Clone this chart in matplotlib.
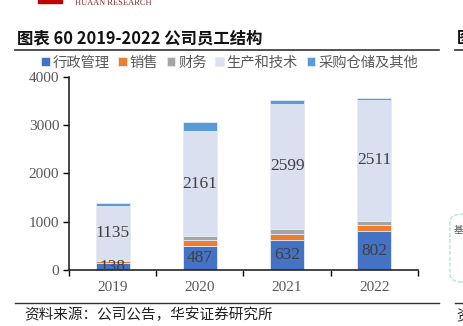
'''
Employee structure 2019-2022, stacked bars.
'''

import matplotlib.pyplot as plt
import numpy as np
from matplotlib.patches import FancyBboxPatch

plt.rcParams['font.family'] = ['Noto Sans CJK SC', 'DejaVu Sans']

years = ['2019', '2020', '2021', '2022']
categories = ['行政管理', '销售', '财务', '生产和技术', '采购仓储及其他']
admin = [138, 487, 632, 802]
sales = [45, 135, 120, 135]
finance = [15, 90, 95, 85]
production = [1135, 2161, 2599, 2511]
others = [65, 195, 70, 30]
colors = ['#4472C4', '#ED7D31', '#A5A5A5', '#DAE0F0', '#5B9BD5']

series = [admin, sales, finance, production, others]
labelled = {0, 3}

fig = plt.figure(figsize=(4.64, 3.26), dpi=100)
ax = fig.add_axes([0.1487, 0.1718, 0.752, 0.592])

x = np.arange(len(years))
bottom = np.zeros(len(years))
for i, (vals, name, c) in enumerate(zip(series, categories, colors)):
    vals = np.array(vals, dtype=float)
    ax.bar(x, vals, 0.39, bottom=bottom, color=c, label=name,
           edgecolor='#E4EAF5', linewidth=0.6)
    if i in labelled:
        for xi, b, v in zip(x, bottom, vals):
            ax.text(xi, b + v / 2, f'{int(v)}', ha='center', va='center',
                    fontsize=12.5, color='#404040', family='Liberation Serif')
    bottom += vals

ax.set_xlim(-0.5, 3.5)
ax.set_ylim(0, 4000)
ax.set_yticks([0, 1000, 2000, 3000, 4000])
ax.set_xticks(x)
ax.set_xticklabels(years)
ax.set_xticks(np.arange(-0.5, 4, 1), minor=True)
ax.tick_params(axis='x', which='major', length=0, pad=8)
ax.tick_params(axis='x', which='minor', length=4, width=1, direction='out')
ax.tick_params(axis='y', length=4, width=1, direction='out', pad=3)
for lab in ax.get_xticklabels() + ax.get_yticklabels():
    lab.set_family('Liberation Serif')
    lab.set_fontsize(11)
    lab.set_color('#595959')
for s in ['top', 'right']:
    ax.spines[s].set_visible(False)
for s in ['left', 'bottom']:
    ax.spines[s].set_color('#262626')
    ax.spines[s].set_linewidth(1.2)

ax.legend(loc='lower center', bbox_to_anchor=(0.46, 1.0), ncol=5, frameon=False,
          fontsize=10.3, handlelength=0.6, handleheight=0.6, handletextpad=0.2,
          columnspacing=0.6, labelcolor='#595959', borderaxespad=0.1)

# page decorations
fig.text(17 / 464, 1 - 38 / 326, '图表 60 2019-2022 公司员工结构', fontsize=11.8,
         fontweight='bold', va='center', ha='left', color='#111111')
fig.text(457 / 464, 1 - 38 / 326, '图', fontsize=11.8, fontweight='bold',
         va='center', ha='left', color='#111111')
fig.add_artist(plt.Line2D([15 / 464, 439 / 464], [1 - 50 / 326] * 2, color='#333333', lw=1.2))
fig.add_artist(plt.Line2D([455 / 464, 1.0], [1 - 50 / 326] * 2, color='#333333', lw=1.2))
fig.add_artist(plt.Line2D([15 / 464, 439 / 464], [1 - 303 / 326] * 2, color='#333333', lw=1.0))
fig.add_artist(plt.Line2D([455 / 464, 1.0], [1 - 303 / 326] * 2, color='#333333', lw=1.0))
fig.text(24 / 464, 1 - 315 / 326, '资料来源：公司公告，华安证券研究所', fontsize=10.5,
         va='center', ha='left', color='#222222')
fig.text(456 / 464, 1 - 315 / 326, '资', fontsize=10.5, va='center', ha='left', color='#222222')

box = FancyBboxPatch((450 / 464, 1 - 282 / 326), 0.1, 68 / 326,
                     boxstyle='round,pad=0,rounding_size=0.025',
                     transform=fig.transFigure, fill=False, ls='--',
                     ec='#A8DCD0', lw=0.8)
fig.add_artist(box)
fig.text(454 / 464, 1 - 230 / 326, '基', fontsize=7, va='center', ha='left', color='#555555')

fig.add_artist(plt.Rectangle((38 / 464, 1 - 3 / 326), 24 / 464, 3 / 326,
                             transform=fig.transFigure, color='#C00000'))
fig.text(75 / 464, 1 - 3 / 326, 'HUAAN RESEARCH', fontsize=6, va='center',
         ha='left', color='#7A2A2A', family='Liberation Serif')

fig.savefig('out.png', dpi=100)
